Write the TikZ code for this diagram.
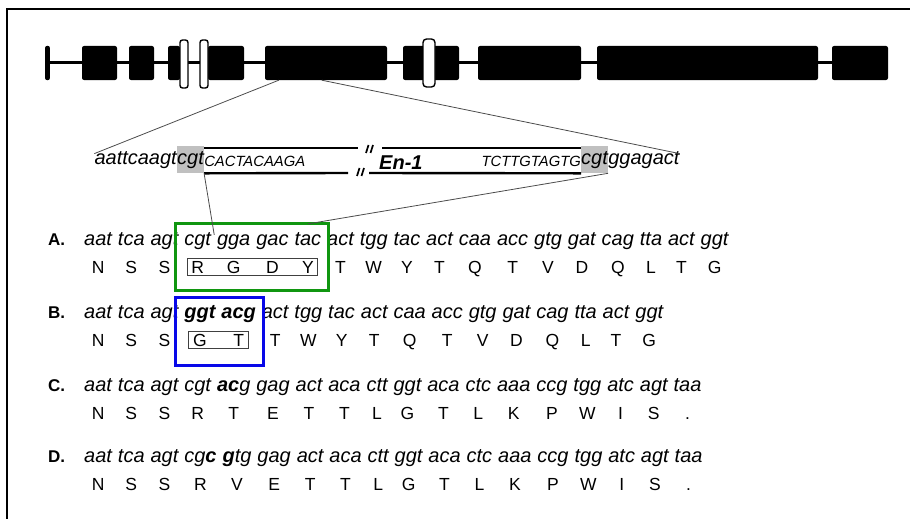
\documentclass[tikz,border=0pt]{standalone}
\usepackage{fontspec}
\setmainfont{Liberation Sans}
\usetikzlibrary{positioning,calc,fit}
\definecolor{boxgreen}{RGB}{16,150,16}
\definecolor{boxblue}{RGB}{8,8,232}
\definecolor{hlgray}{RGB}{192,192,192}
\tikzset{
  exon/.style={fill=black, rounded corners=2pt, minimum height=34pt, inner sep=0pt},
  wbox/.style={draw=black, fill=white, line width=1.4pt, rounded corners=2.5pt,
               minimum height=48pt, inner sep=0pt},
  track/.style={line width=3pt},
  strand/.style={line width=2.4pt},
  brkmk/.style={line width=1.7pt},
  zoomln/.style={black!70, line width=0.8pt},
  nt/.style={inner sep=0pt, font=\fontsize{20}{24}\selectfont\itshape},
  ntcap/.style={inner sep=0pt, font=\fontsize{14.8}{18}\selectfont\itshape},
  hl/.style={nt, fill=hlgray, minimum height=27pt},
  codon/.style={nt, anchor=base west},
  aa/.style={inner sep=0pt, anchor=base, font=\fontsize{17.5}{21}\selectfont},
  lbl/.style={inner sep=0pt, anchor=base west, font=\fontsize{17}{20}\selectfont\bfseries},
  enlbl/.style={inner sep=0pt, anchor=base west, font=\fontsize{20}{24}\selectfont\bfseries\itshape},
  grnbox/.style={draw=boxgreen, line width=3pt},
  blubox/.style={draw=boxblue, line width=3pt},
  aabox/.style={draw=black!75, line width=0.9pt, inner xsep=4pt, inner ysep=2.5pt},
}
% one sequence row: label, codons and the amino acids under them
\newcommand{\seqrow}[3]{%
  \node[lbl] (lab#1) at (48,#2) {#1.};
  \foreach \cdn/\amn [count=\i, remember=\i as \j (initially 0)] in {#3}{%
    \ifnum\i=1
      \node[codon] (#1\i) at (84,#2) {\cdn};
    \else
      \node[codon] (#1\i) at ([xshift=5.56pt]#1\j.base east) {\cdn};
    \fi
    \node[aa] (p#1\i) at ([yshift=-28pt]#1\i.base) {\amn};
  }%
}

\begin{document}
\begin{tikzpicture}[x=1pt, y=-1pt]
  \useasboundingbox (0,0) rectangle (910,519);
  \draw[line width=2pt] (7,519) -- (7,9) -- (910,9);

  % gene track
  \draw[track] (47.5,63) -- (832,63);
  \draw[line width=4.5pt, line cap=round] (47.5,48) -- (47.5,78);
  \foreach \xa/\xb [count=\k] in {82/117, 129/154, 168/180, 208/244, 265/387,
                                  403/459, 478/581, 597/818, 832/888}
    \node[exon, minimum width={\xb-\xa}] (ex\k) at ({(\xa+\xb)/2},63) {};
  \node[wbox, minimum width=8pt] (wb1) at (184,64) {};
  \node[wbox, minimum width=8pt] (wb2) at (204,64) {};
  \node[wbox, minimum width=12pt, rounded corners=3.5pt] (wb3) at (429,63) {};

  % zoomed exon
  \node[hl, anchor=base west] (lcgt) at (177,164) {cgt};
  \node[nt, anchor=base east] (lft) at (lcgt.base west) {aattcaagt};
  \node[ntcap, anchor=base west] (lcap) at ([yshift=-2pt]lcgt.base east) {CACTACAAGA};
  \node[enlbl] (en) at (379,169) {En-1};
  \node[hl, anchor=base west] (rcgt) at (581,164) {cgt};
  \node[ntcap, anchor=base east] (rcap) at ([yshift=-2pt]rcgt.base west) {TCTTGTAGTG};
  \node[nt, anchor=base west] (rgt) at (rcgt.base east) {ggagact};
  \draw[strand] (lcgt.east |- 0,148) -- (358,148);
  \draw[strand] (lcgt.south east) -- (348,173);
  \draw[strand] (382,148) -- (rcgt.west |- 0,148);
  \draw[strand] (369,173) -- (rcgt.south west);
  \draw[brkmk] (368.5,145) -- (366,153) (373,145) -- (370.5,153);
  \draw[brkmk] (359.5,168) -- (357,176) (364,168) -- (361.5,176);
  \draw[zoomln] ([xshift=14pt]ex5.south west) -- ([yshift=6pt]lft.west);
  \draw[zoomln] ([xshift=57pt]ex5.south west) -- ([yshift=6pt]rgt.east);

  % sequences
  \seqrow{A}{245}{aat/N, tca/S, agt/S, cgt/R, gga/G, gac/D, tac/Y, act/T, tgg/W, tac/Y,
    act/T, caa/Q, acc/T, gtg/V, gat/D, cag/Q, tta/L, act/T, ggt/G}
  \seqrow{B}{318}{aat/N, tca/S, agt/S, \textbf{ggt}/G, \textbf{acg}/T, act/T, tgg/W, tac/Y,
    act/T, caa/Q, acc/T, gtg/V, gat/D, cag/Q, tta/L, act/T, ggt/G}
  \seqrow{C}{391}{aat/N, tca/S, agt/S, cgt/R, \textbf{ac}g/T, gag/E, act/T, aca/T, ctt/L,
    ggt/G, aca/T, ctc/L, aaa/K, ccg/P, tgg/W, atc/I, agt/S, taa/.}
  \seqrow{D}{462}{aat/N, tca/S, agt/S, cg\textbf{c}/R, \textbf{g}tg/V, gag/E, act/T, aca/T,
    ctt/L, ggt/G, aca/T, ctc/L, aaa/K, ccg/P, tgg/W, atc/I, agt/S, taa/.}

  % boxes
  \coordinate (gnw) at ($(A4.north west)+(-9,-8)$);
  \coordinate (gse) at ($(A7.east |- pA7.base)+(7,17)$);
  \draw[grnbox] (gnw) rectangle (gse);
  \node[aabox, fit=(pA4)(pA7)] (rgdy) {};
  \coordinate (bnw) at ($(B4.north west)+(-9,-7)$);
  \coordinate (bse) at ($(B5.east |- pB5.base)+(7,19)$);
  \draw[blubox] (bnw) rectangle (bse);
  \node[aabox, fit=(pB4)(pB5)] (gt) {};
  \draw[zoomln] (lcgt.south east) -- ([shift={(3pt,-3pt)}]A4.north east);
  \draw[zoomln] (rcgt.south east) -- (A7.north |- gnw);
\end{tikzpicture}
\end{document}
